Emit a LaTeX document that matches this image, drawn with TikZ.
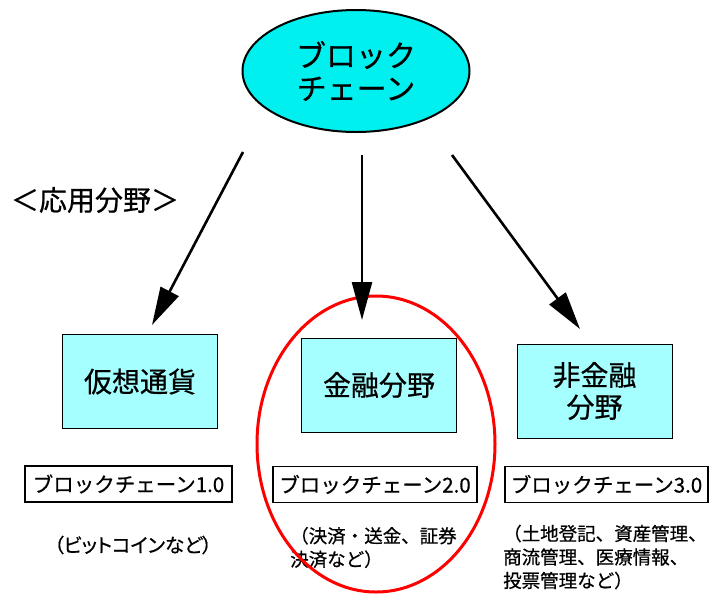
\documentclass[tikz,border=0pt]{standalone}
\usepackage{fontspec}
\newfontfamily\jp[FakeBold=0.6]{Noto Sans CJK JP}
\newfontfamily\jpp[RawFeature=+palt,FakeBold=0.6]{Noto Sans CJK JP}
\usetikzlibrary{arrows.meta,shapes.geometric}
\definecolor{mizu}{RGB}{0,240,240}
\definecolor{usumizu}{RGB}{165,255,255}
\tikzset{
  yajirushi/.style={-{Triangle[length=38pt,width=20pt]},line width=2.6pt},
  hako/.style={draw,fill=usumizu,minimum width=155pt,minimum height=94pt,inner sep=0pt,
    align=center,font=\jp\fontsize{28}{32}\selectfont},
  waku/.style={draw,line width=1.2pt,minimum height=36pt,inner sep=0pt,
    font=\jp\fontsize{20.5}{24}\selectfont},
  setsu/.style={align=left,inner sep=0pt,font=\jp\fontsize{18.5}{23.5}\selectfont},
}

\begin{document}
\begin{tikzpicture}[x=1pt,y=-1pt]
  \useasboundingbox (0,0) rectangle (718,595);
  \node[ellipse,draw,line width=2pt,fill=mizu,minimum width=227pt,minimum height=122pt,
    align=center,font=\jp\fontsize{30}{33}\selectfont] (bc) at (356,71) {ブロック\\チェーン};
  \node[font=\jp\fontsize{28}{32}\selectfont] (oyo) at (95,200) {＜応用分野＞};
  % 分野ごとの箱
  \node[hako] (kaso) at (140,381.5) {仮想通貨};
  \node[hako] (kinyu) at (379,385) {金融分野};
  \node[hako] (hikinyu) at (594.5,391) {非金融\\分野};
  \node[waku,minimum width=207pt] (v1) at (128.5,484) {ブロックチェーン1.0};
  \node[waku,minimum width=204pt] (v2) at (375,484.5) {ブロックチェーン2.0};
  \node[waku,minimum width=203pt] (v3) at (606.5,484.5) {ブロックチェーン3.0};
  \node[setsu,font=\jpp\fontsize{19.5}{23.5}\selectfont] (rei1) at (133,545) {（ビットコインなど）};
  \node[setsu,anchor=west] (rei2) at (290,547.5) {（決済・送金、証券\\決済など）};
  \node[setsu,anchor=west] (rei3) at (503,557) {（土地登記、資産管理、\\商流管理、医療情報、\\投票管理など）};
  % 赤い丸
  \draw[red,line width=3pt] (376,444) ellipse [x radius=119, y radius=148];
  \coordinate (s1) at (243,152); \coordinate (t1) at (152,325);
  \coordinate (s2) at (362,155); \coordinate (t2) at (362,320);
  \coordinate (s3) at (452,155); \coordinate (t3) at (580,329);
  \draw[yajirushi] (s1) -- (t1);
  \draw[yajirushi] (s2) -- (t2);
  \draw[yajirushi] (s3) -- (t3);
\end{tikzpicture}
\end{document}
